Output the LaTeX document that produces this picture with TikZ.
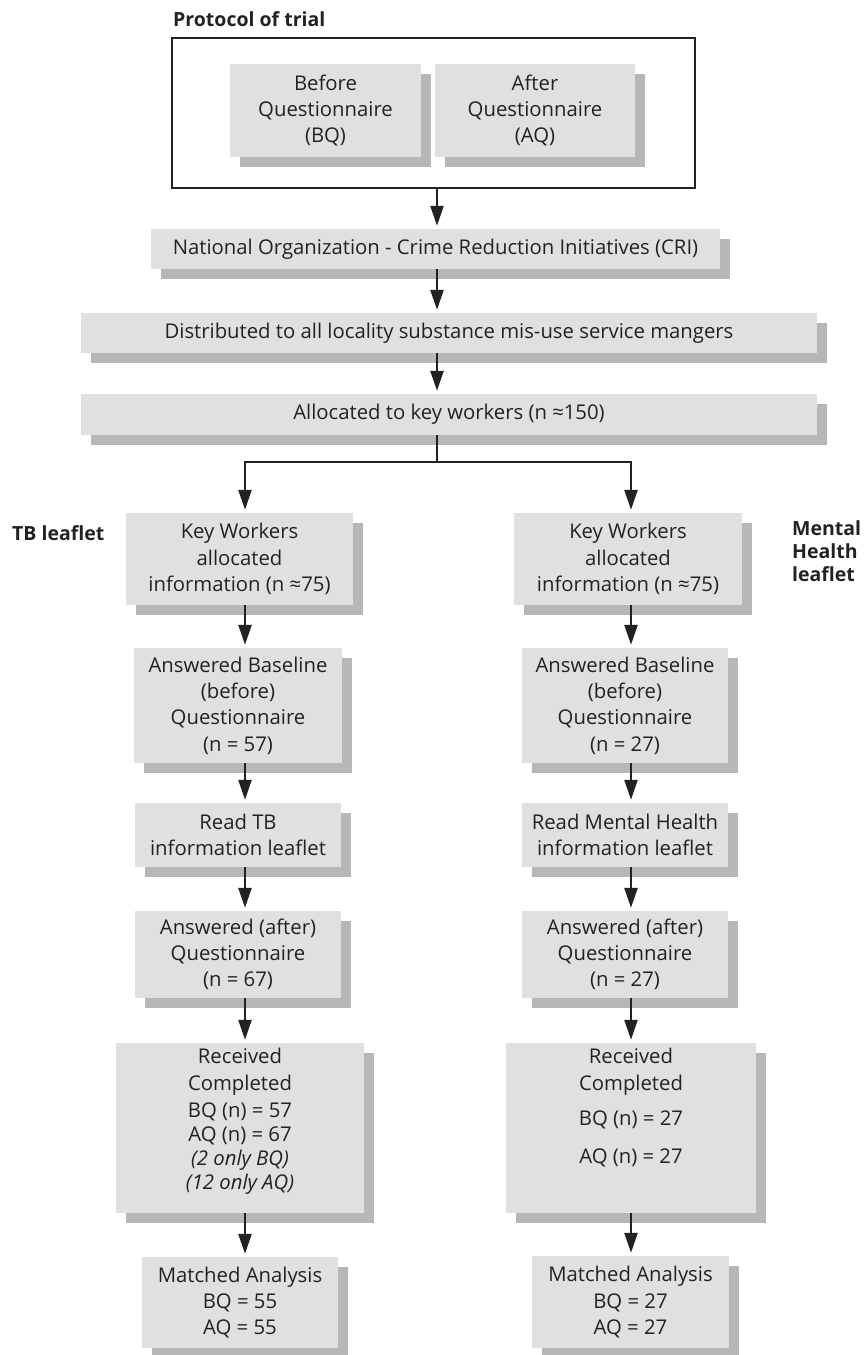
\documentclass[tikz,border=0pt]{standalone}
\usepackage{fontspec}
\setmainfont{Open Sans}
\usetikzlibrary{arrows.meta,shadows}
\definecolor{boxfill}{HTML}{E0E0E0}
\definecolor{shadowgrey}{HTML}{B7B7B7}
\definecolor{ink}{HTML}{222222}
\newcommand\fsreg{\fontsize{20.3}{26.3}\selectfont}
\newcommand\fstight{\fontsize{20.3}{24}\selectfont}
\newcommand\fsbold{\fontsize{19.5}{23}\selectfont\bfseries}
\begin{document}
\begin{tikzpicture}[x=1pt,y=-1pt,
  box/.style={fill=boxfill, inner sep=0pt, align=center, text=ink, font=\fsreg,
    general shadow={fill=shadowgrey, shadow xshift=10pt, shadow yshift=-10pt}},
  boxtext/.style={inner sep=0pt, align=center, text=ink},
  lbl/.style={inner sep=0pt, text=ink, font=\fsbold},
  wire/.style={draw=ink, line width=2.5pt},
  conn/.style={wire, -{Triangle[length=20pt,width=13pt]}, shorten >=3pt}]
\useasboundingbox (0,0) rectangle (863,1355);

% title and side labels
\node[lbl, anchor=base west] (title) at (173,26) {Protocol of trial};
\node[lbl, anchor=base west] (tbl) at (12,540) {TB leaflet};
\node[lbl, anchor=north west, align=left] (mhl) at (792,520) {Mental\\Health\\leaflet};

% protocol frame
\node[draw=ink, line width=1.8pt, minimum width=523pt, minimum height=150pt, inner sep=0pt] (frame) at (433.5,113) {};
\node[box, minimum width=191pt, minimum height=93pt] (bq) at (325.5,110.5) {Before\\Questionnaire\\(BQ)};
\node[box, minimum width=200pt, minimum height=93pt] (aq) at (535,110.5) {After\\Questionnaire\\(AQ)};

% main column
\node[box, minimum width=569pt, minimum height=40pt] (cri) at (435.5,249) {National Organization - Crime Reduction Initiatives (CRI)};
\node[box, minimum width=736pt, minimum height=40pt] (dist) at (449,333) {Distributed to all locality substance mis-use service mangers};
\node[box, minimum width=736pt, minimum height=41pt] (alloc) at (449,414.5) {Allocated to key workers (n ≈150)};

% left column
\node[box, minimum width=227pt, minimum height=92pt] (kwL) at (239.5,559) {Key Workers\\allocated\\information (n ≈75)};
\node[box, minimum width=208pt, minimum height=115pt] (abL) at (238,705.5) {Answered Baseline\\(before)\\Questionnaire\\(n = 57)};
\node[box, minimum width=206pt, minimum height=64pt] (rtL) at (238,835) {Read TB\\information leaflet};
\node[box, minimum width=206pt, minimum height=87pt] (aaL) at (238,954.5) {Answered (after)\\Questionnaire\\(n = 67)};
\node[box, minimum width=248pt, minimum height=170pt] (rcL) at (240,1128) {};
\node[boxtext, font=\fstight, anchor=north] (rcLt) at ([yshift=-5pt]rcL.north) {Received\\[3pt]Completed\\[3pt]BQ (n) = 57\\AQ (n) = 67\\\textit{(2 only BQ)}\\\textit{(12 only AQ)}};
\node[box, minimum width=196pt, minimum height=91pt] (maL) at (240,1302.5) {Matched Analysis\\BQ = 55\\AQ = 55};

% right column
\node[box, minimum width=228pt, minimum height=92pt] (kwR) at (628,559) {Key Workers\\allocated\\information (n ≈75)};
\node[box, minimum width=206pt, minimum height=115pt] (abR) at (625,705.5) {Answered Baseline\\(before)\\Questionnaire\\(n = 27)};
\node[box, minimum width=206pt, minimum height=64pt] (rtR) at (625,835) {Read Mental Health\\information leaflet};
\node[box, minimum width=206pt, minimum height=87pt] (aaR) at (625,954.5) {Answered (after)\\Questionnaire\\(n = 27)};
\node[box, minimum width=250pt, minimum height=170pt] (rcR) at (631,1128) {};
\node[boxtext, font=\fsreg, anchor=north] (rcRt) at ([yshift=-5pt]rcR.north) {Received\\[0.7pt]Completed\\[8.7pt]BQ (n) = 27\\[11.7pt]AQ (n) = 27};
\node[box, minimum width=197pt, minimum height=92pt] (maR) at (630.5,1302) {Matched Analysis\\BQ = 27\\AQ = 27};

% connector x positions
\coordinate (mx) at (437,0);
\coordinate (lx) at (245,0);
\coordinate (rx) at (631,0);
\coordinate (br) at (437,462);

% main connectors
\draw[conn] (frame.south -| mx) -- (cri.north -| mx);
\draw[conn] (cri.south -| mx) -- (dist.north -| mx);
\draw[conn] (dist.south -| mx) -- (alloc.north -| mx);
\draw[wire] (alloc.south -| mx) -- (br);
\draw[conn] (br) -| (kwL.north -| lx);
\draw[conn] (br) -| (kwR.north -| rx);

% left connectors
\draw[conn] (kwL.south -| lx) -- (abL.north -| lx);
\draw[conn] (abL.south -| lx) -- (rtL.north -| lx);
\draw[conn] (rtL.south -| lx) -- (aaL.north -| lx);
\draw[conn] (aaL.south -| lx) -- (rcL.north -| lx);
\draw[conn] (rcL.south -| lx) -- (maL.north -| lx);

% right connectors
\draw[conn] (kwR.south -| rx) -- (abR.north -| rx);
\draw[conn] (abR.south -| rx) -- (rtR.north -| rx);
\draw[conn] (rtR.south -| rx) -- (aaR.north -| rx);
\draw[conn] (aaR.south -| rx) -- (rcR.north -| rx);
\draw[conn] (rcR.south -| rx) -- (maR.north -| rx);
\end{tikzpicture}
\end{document}
